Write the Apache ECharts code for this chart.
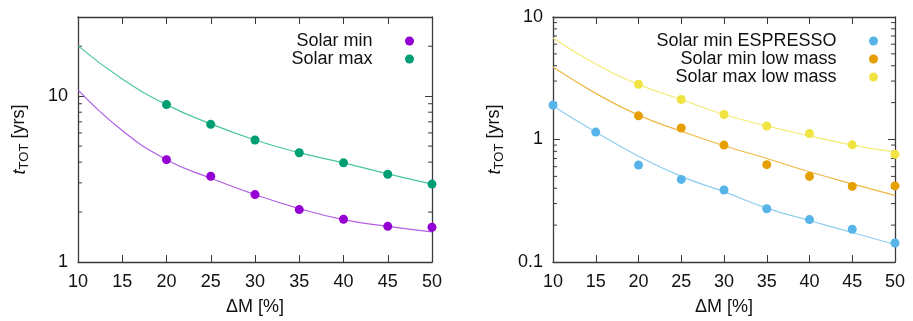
<!DOCTYPE html>
<html>
<head>
<meta charset="utf-8">
<script src="https://cdn.jsdelivr.net/npm/echarts@6/dist/echarts.min.js"></script>
<style>
  html, body {margin: 0; padding: 0; background: #fff;}
  #chart {width: 913px; height: 321px;}
</style>
</head>
<body>
<div id="chart"></div>
<script>
// measured points (ΔM in %, t_TOT in yrs)
const deltaM = [20, 25, 30, 35, 40, 45, 50];
const deltaMEspresso = [10, 15, 20, 25, 30, 35, 40, 45, 50];
const fitM = [10, 15, 20, 25, 30, 35, 40, 45, 50];

const solarMin = [4.14, 3.29, 2.55, 2.07, 1.81, 1.64, 1.62];
const solarMax = [8.89, 6.76, 5.44, 4.56, 3.96, 3.38, 2.95];
const solarMinFit = [10.9, 6.2, 4.14, 3.2, 2.55, 2.1, 1.8, 1.64, 1.52];
const solarMaxFit = [20.1, 12.7, 8.89, 6.8, 5.44, 4.56, 3.96, 3.4, 2.95];

const espresso = [1.91, 1.15, 0.618, 0.472, 0.387, 0.272, 0.222, 0.185, 0.143];
const minLowMass = [1.56, 1.24, 0.90, 0.623, 0.50, 0.414, 0.418];
const maxLowMass = [2.82, 2.12, 1.60, 1.29, 1.12, 0.905, 0.757];
const espressoFit = [1.88, 1.15, 0.73, 0.50, 0.375, 0.275, 0.218, 0.174, 0.139];
const minLowMassFit = [3.9, 2.38, 1.58, 1.17, 0.89, 0.70, 0.545, 0.434, 0.35];
const maxLowMassFit = [6.75, 4.14, 2.82, 2.12, 1.60, 1.29, 1.07, 0.90, 0.79];

// gnuplot style minor ticks on the log axes
const minorLeft = [2, 3, 4, 5, 6, 7, 8, 9, 20];
const minorRight = [0.2, 0.3, 0.4, 0.5, 0.6, 0.7, 0.8, 0.9, 2, 3, 4, 5, 6, 7, 8, 9];

const font = "'Liberation Sans', Arial, sans-serif";
const axisColor = '#3a3a3a';
const txt = '#111';

const pairs = (xs, ys) => xs.map((x, i) => [x, ys[i]]);

function xAxisDef(grid, top) {
  return {
    type: 'value', gridIndex: grid, position: top ? 'top' : 'bottom',
    min: 10, max: 50, interval: 5,
    axisLine: {lineStyle: {color: axisColor, width: 1.3}},
    axisTick: {inside: true, length: 7, lineStyle: {color: axisColor}},
    axisLabel: {show: !top, fontSize: 18, fontFamily: font, color: txt, margin: 11},
    splitLine: {show: false},
    name: top ? '' : 'ΔM [%]', nameLocation: 'middle', nameGap: 36,
    nameTextStyle: {fontSize: 18, fontFamily: font, color: txt}
  };
}

function yAxisDef(grid, right, min, max) {
  return {
    type: 'log', logBase: 10, gridIndex: grid, position: right ? 'right' : 'left',
    min: min, max: max,
    axisLine: {lineStyle: {color: axisColor, width: 1.3}},
    axisTick: {inside: true, length: 7, lineStyle: {color: axisColor}},
    axisLabel: {show: !right, showMaxLabel: max === 10, fontSize: 18, fontFamily: font, color: txt, margin: 10},
    splitLine: {show: false},
    name: right ? '' : '{t|t}{s|TOT} [yrs]', nameLocation: 'middle', nameGap: 47, nameRotate: 90,
    nameTextStyle: {
      fontSize: 18, fontFamily: font, color: txt,
      rich: {
        t: {fontSize: 18, fontStyle: 'italic', fontFamily: font, color: txt},
        s: {fontSize: 13, fontFamily: font, color: txt, padding: [10, 0, 0, 0]}
      }
    }
  };
}

function minorTicks(xi, yi, vals) {
  return {
    type: 'custom', xAxisIndex: xi, yAxisIndex: yi, silent: true, clip: false, z: 1,
    data: vals.map(v => [10, v]),
    renderItem: (params, api) => {
      const v = api.value(1);
      const l = api.coord([10, v]);
      const r = api.coord([50, v]);
      const st = {stroke: axisColor, lineWidth: 1};
      return {type: 'group', children: [
        {type: 'line', shape: {x1: l[0], y1: l[1], x2: l[0] + 4, y2: l[1]}, style: st},
        {type: 'line', shape: {x1: r[0], y1: r[1], x2: r[0] - 4, y2: r[1]}, style: st}
      ]};
    }
  };
}

function fit(name, xi, yi, data, color) {
  return {
    name: name, type: 'line', xAxisIndex: xi, yAxisIndex: yi, data: data,
    smooth: true, showSymbol: false, z: 2,
    lineStyle: {color: color, width: 1.2}, itemStyle: {color: color}
  };
}

function pts(name, xi, yi, data, color) {
  return {
    name: name, type: 'scatter', xAxisIndex: xi, yAxisIndex: yi, data: data,
    symbol: 'circle', symbolSize: 9, z: 3, itemStyle: {color: color, opacity: 1}
  };
}

const legendBase = {
  orient: 'vertical', align: 'right', padding: 0, itemGap: 0,
  itemWidth: 64, itemHeight: 9, icon: 'circle', selectedMode: false,
  itemStyle: {opacity: 1},
  textStyle: {fontSize: 18, fontFamily: font, color: txt}
};

const chart = echarts.init(document.getElementById('chart'));
chart.setOption({
  animation: false,
  backgroundColor: '#fff',
  grid: [
    {left: 78, top: 17, width: 354, height: 249},
    {left: 553, top: 17, width: 342, height: 249}
  ],
  xAxis: [xAxisDef(0, false), xAxisDef(0, true), xAxisDef(1, false), xAxisDef(1, true)],
  yAxis: [yAxisDef(0, false, 1, 30), yAxisDef(0, true, 1, 30), yAxisDef(1, false, 0.1, 10), yAxisDef(1, true, 0.1, 10)],
  legend: [
    Object.assign({}, legendBase, {right: 499, top: 32, data: ['Solar min', 'Solar max']}),
    Object.assign({}, legendBase, {right: 35, top: 32, data: ['Solar min ESPRESSO', 'Solar min low mass', 'Solar max low mass']})
  ],
  series: [
    minorTicks(0, 0, minorLeft),
    minorTicks(2, 2, minorRight),
    fit('fit min', 0, 0, pairs(fitM, solarMinFit), '#b25ee6'),
    fit('fit max', 0, 0, pairs(fitM, solarMaxFit), '#4cc69c'),
    pts('Solar min', 0, 0, pairs(deltaM, solarMin), '#9400d3'),
    pts('Solar max', 0, 0, pairs(deltaM, solarMax), '#009e73'),
    fit('fit espresso', 2, 2, pairs(fitM, espressoFit), '#8ccdf0'),
    fit('fit min low', 2, 2, pairs(fitM, minLowMassFit), '#eeb845'),
    fit('fit max low', 2, 2, pairs(fitM, maxLowMassFit), '#f4eb74'),
    pts('Solar min ESPRESSO', 2, 2, pairs(deltaMEspresso, espresso), '#56b4e9'),
    pts('Solar min low mass', 2, 2, pairs(deltaM, minLowMass), '#e69f00'),
    pts('Solar max low mass', 2, 2, pairs(deltaM, maxLowMass), '#f0e442')
  ]
});
</script>
</body>
</html>
